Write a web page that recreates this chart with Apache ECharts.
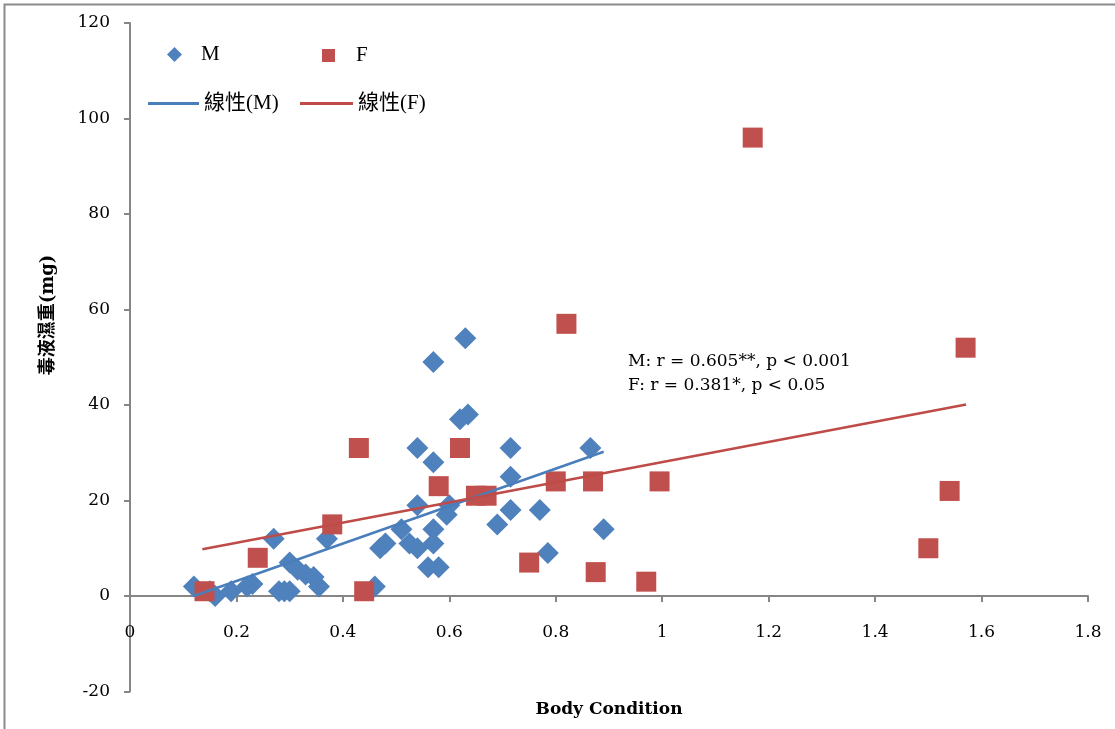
<!DOCTYPE html>
<html><head><meta charset="utf-8">
<script src="https://cdn.jsdelivr.net/npm/echarts@6/dist/echarts.min.js"></script>
<style>html,body{margin:0;padding:0;background:#fff}#c{width:1115px;height:729px}</style>
</head><body><div id="c"></div>
<script>
// ---- data ----
const mData = [
  [0.12,2],[0.15,1],[0.16,0],[0.19,1],[0.22,2],[0.23,2.5],[0.27,12],
  [0.28,1],[0.29,1],[0.30,1],[0.30,7],[0.315,5.5],[0.33,4.5],[0.345,4],[0.355,2],
  [0.37,12],[0.46,2],[0.47,10],[0.48,11],[0.51,14],[0.525,11],[0.54,10],
  [0.54,31],[0.54,19],[0.57,28],[0.57,49],[0.57,14],[0.57,11],[0.56,6],[0.58,6],
  [0.595,17],[0.60,19],[0.62,37],[0.635,38],[0.63,54],[0.69,15],[0.715,31],
  [0.715,25],[0.715,18],[0.77,18],[0.785,9],[0.865,31],[0.89,14]
];
const fData = [
  [0.14,1],[0.24,8],[0.38,15],[0.43,31],[0.44,1],[0.58,23],[0.62,31],
  [0.65,21],[0.67,21],[0.75,7],[0.80,24],[0.82,57],[0.87,24],[0.875,5],
  [0.97,3],[0.995,24],[1.17,96],[1.50,10],[1.54,22],[1.57,52]
];
const mFit = [[0.12,0],[0.89,30.2]];
const fFit = [[0.136,9.8],[1.571,40.1]];
const seriesNames = ['M','F','線性(M)','線性(F)'];
const annotations = ['M: r = 0.605**, p < 0.001','F: r = 0.381*, p < 0.05'];
const yTitle = '毒液濕重(mg)';
const xTitle = 'Body Condition';
const xRange = {min:0, max:1.8, interval:0.2};
const yRange = {min:-20, max:120, interval:20};

const BLUE = '#4F81BD', RED = '#C0504D', AX = '#868686';
const LAT = '"DejaVu Serif", "Liberation Serif", serif';
const CJK = '"Liberation Serif", "Noto Sans CJK TC", serif';

const GRID = {left:130, right:27, top:23, bottom:37.5};
const plotH = 729 - GRID.top - GRID.bottom;
const zeroOffset = plotH * (0 - yRange.min) / (yRange.max - yRange.min);

const chart = echarts.init(document.getElementById('c'), null, {renderer:'canvas'});
const legendBase = {orient:'horizontal', itemGap:0, selectedMode:false,
  textStyle:{fontFamily:CJK, fontSize:21, color:'#000'}};
chart.setOption({
  animation:false,
  backgroundColor:'#fff',
  grid:Object.assign({containLabel:false, outerBoundsMode:'none'}, GRID),
  xAxis:{type:'value', min:xRange.min, max:xRange.max, interval:xRange.interval,
    position:'bottom', offset:-zeroOffset,
    axisLine:{onZero:false, lineStyle:{color:AX, width:2}},
    axisTick:{show:true, length:6, lineStyle:{color:AX, width:2}},
    axisLabel:{margin:28, color:'#000', fontFamily:LAT, fontSize:17},
    splitLine:{show:false}},
  yAxis:{type:'value', min:yRange.min, max:yRange.max, interval:yRange.interval,
    axisLine:{show:true, onZero:false, lineStyle:{color:AX, width:2}},
    axisTick:{show:true, length:6, lineStyle:{color:AX, width:2}},
    axisLabel:{margin:20, color:'#000', fontFamily:LAT, fontSize:17},
    splitLine:{show:false}},
  legend:[
    Object.assign({}, legendBase, {data:[seriesNames[0]], left:162, top:39, itemWidth:15, itemHeight:15,
      textStyle:Object.assign({}, legendBase.textStyle, {padding:[0,0,0,14]})}),
    Object.assign({}, legendBase, {data:[seriesNames[1]], left:317, top:40, itemWidth:13, itemHeight:13,
      textStyle:Object.assign({}, legendBase.textStyle, {padding:[0,0,0,16]})}),
    Object.assign({}, legendBase, {data:[{name:seriesNames[2], icon:'rect'}], left:143, top:88,
      itemWidth:51, itemHeight:3}),
    Object.assign({}, legendBase, {data:[{name:seriesNames[3], icon:'rect'}], left:295, top:88,
      itemWidth:53, itemHeight:3})
  ],
  series:[
    {name:seriesNames[0], type:'scatter', data:mData, symbol:'diamond', symbolSize:[22,22],
      itemStyle:{color:BLUE, opacity:1}, z:2},
    {name:seriesNames[1], type:'scatter', data:fData, symbol:'rect', symbolSize:[20,20],
      itemStyle:{color:RED, opacity:1}, z:2},
    {name:seriesNames[2], type:'line', data:mFit, symbol:'none', showSymbol:false,
      lineStyle:{color:'#4A7EBB', width:2.5}, itemStyle:{color:'#4A7EBB'}, z:3},
    {name:seriesNames[3], type:'line', data:fFit, symbol:'none', showSymbol:false,
      lineStyle:{color:'#BE4B48', width:2.5}, itemStyle:{color:'#BE4B48'}, z:3}
  ],
  graphic:[
    {type:'rect', left:2, top:2, shape:{width:1300, height:1000}, silent:true, z:-10,
      style:{fill:null, stroke:'#8a8a8a', lineWidth:2}},
    {type:'text', x:628, y:362, style:{text:annotations[0], fontFamily:LAT, fontSize:17,
      fill:'#000', textVerticalAlign:'middle'}},
    {type:'text', x:628, y:386, style:{text:annotations[1], fontFamily:LAT, fontSize:17,
      fill:'#000', textVerticalAlign:'middle'}},
    {type:'text', x:609, y:710, style:{text:xTitle, fontFamily:LAT, fontWeight:'bold', fontSize:17,
      fill:'#000', textAlign:'center', textVerticalAlign:'middle'}},
    {type:'text', x:48, y:315, rotation:Math.PI/2, style:{text:yTitle,
      fontFamily:'"DejaVu Serif", "Noto Sans CJK TC", serif', fontWeight:'bold', fontSize:18,
      fill:'#000', textAlign:'center', textVerticalAlign:'middle'}}
  ]
});
</script></body></html>
